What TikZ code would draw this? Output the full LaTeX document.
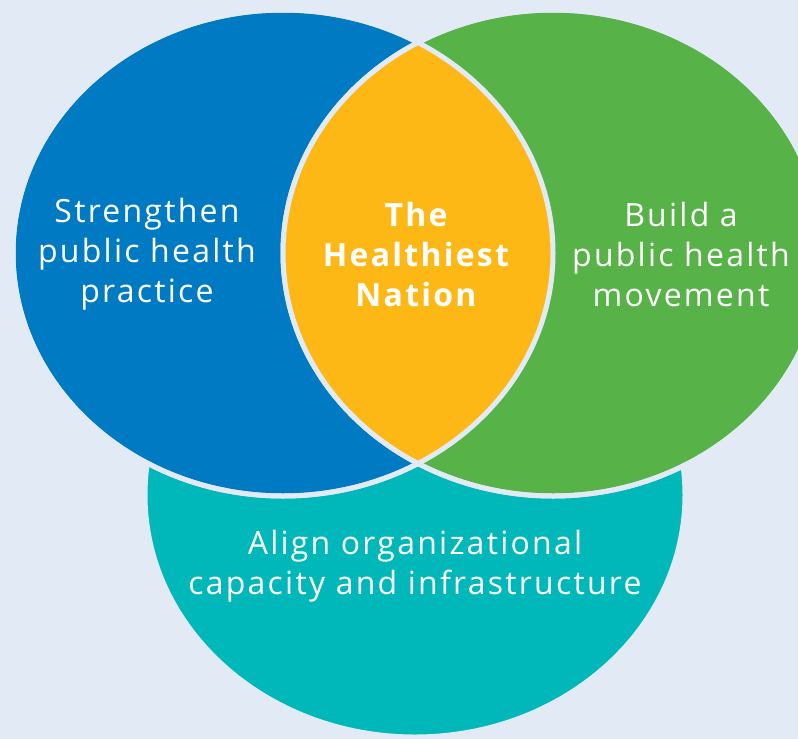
\documentclass[tikz,border=0pt]{standalone}
\usepackage{fontspec}
\setmainfont{Open Sans}[LetterSpace=7]
\definecolor{bgblue}{RGB}{226,234,246}
\definecolor{apblue}{RGB}{0,122,195}
\definecolor{apgreen}{RGB}{87,178,72}
\definecolor{apyellow}{RGB}{253,184,22}
\definecolor{apteal}{RGB}{0,184,186}

\begin{document}
\begin{tikzpicture}[x=1pt,y=-1pt]
\tikzset{
  gap/.style={draw=bgblue, line width=5pt},
  circlabel/.style={text=white, align=center, font=\fontsize{32}{40}\selectfont}
}

\useasboundingbox (0,0) rectangle (798,739);
\clip (0,0) rectangle (798,739);
\fill [bgblue] (0,0) rectangle (798,739);

% three rings
\filldraw [gap, fill=apteal] (415,495) ellipse [x radius=270pt, y radius=242pt];
\filldraw [gap, fill=apblue] (283,253) ellipse [x radius=270pt, y radius=243pt];
\filldraw [gap, fill=apgreen] (553,253) ellipse [x radius=270pt, y radius=243pt];

% the lens
\begin{scope}
\clip (283,253) ellipse [x radius=270pt, y radius=243pt];
\fill [apyellow] (553,253) ellipse [x radius=270pt, y radius=243pt];
\end{scope}
\draw [gap] (283,253) ellipse [x radius=270pt, y radius=243pt];
\draw [gap] (553,253) ellipse [x radius=270pt, y radius=243pt];

\node [circlabel] (practice) at (147,254) {Strengthen\\public health\\practice};
\node [circlabel] (movement) at (681,254) {Build a\\public health\\movement};
\node [circlabel, font=\fontsize{32}{40}\selectfont\bfseries] (nation) at (416,254) {The\\Healthiest\\Nation};
\node [circlabel] (capacity) at (415,566) {Align organizational\\capacity and infrastructure};

\end{tikzpicture}
\end{document}
